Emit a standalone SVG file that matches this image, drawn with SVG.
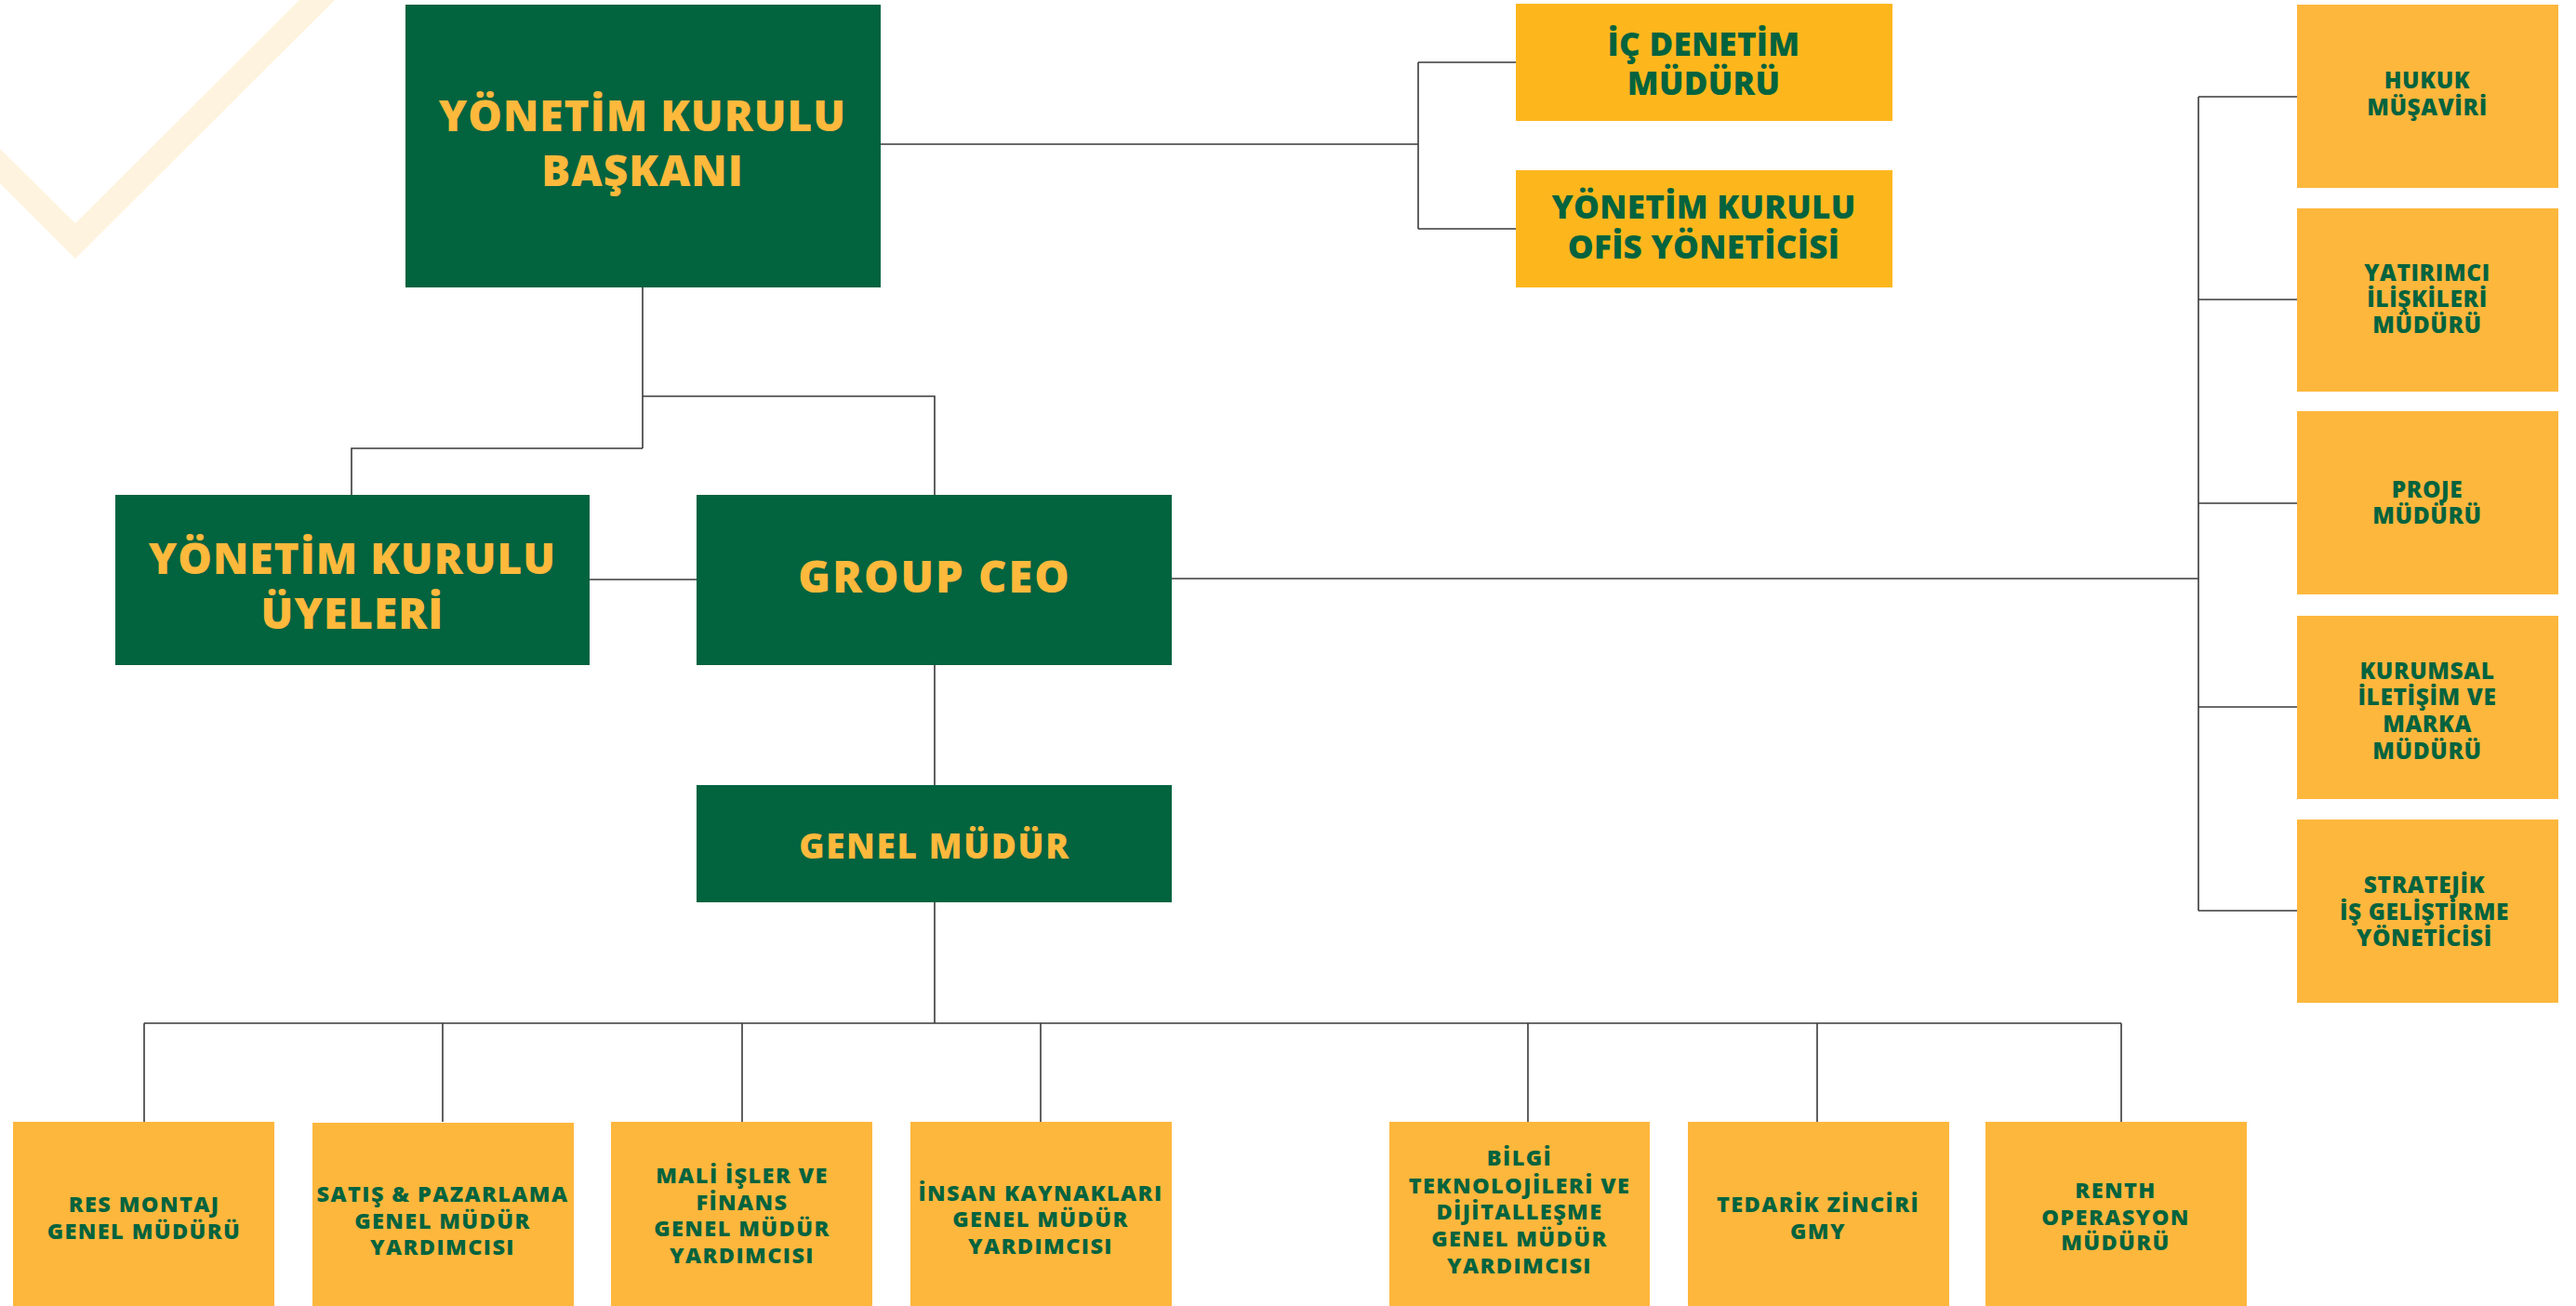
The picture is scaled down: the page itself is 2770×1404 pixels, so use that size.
<svg xmlns="http://www.w3.org/2000/svg" width="2770" height="1404" viewBox="0 0 2770 1404">
<style>
.g{fill:#02633F}
.y1{fill:#FDB71D}
.y2{fill:#FEB73D}
text{font-family:"Open Sans","DejaVu Sans",sans-serif;font-weight:800;text-anchor:middle}
.tg{fill:#FDB93C}
.ty{fill:#03633E}
.big{font-size:46px;letter-spacing:1px}
.ceo{font-size:47px;letter-spacing:2px}
.gm{font-size:37px;letter-spacing:1.6px}
.mid{font-size:35px;letter-spacing:0.3px}
.sm{font-size:24.5px;letter-spacing:0.6px}
.bt{font-size:23.5px;letter-spacing:1.4px}
.c{fill:none;stroke:#3a3a3a;stroke-width:1.6}
</style>
<rect width="2770" height="1404" fill="#FFFFFF"/>
<polygon points="0,160 81,240 322,0 360,0 81,278 0,197" fill="#FEF3DE"/>
<g id="connectors" class="c">
<path d="M947,155 H1525 M1525,67 V246 M1525,67 H1630 M1525,246 H1630"/>
<path d="M691,309 V482 M691,426 H1005 V532 M691,482 H378 V532"/>
<path d="M634,623 H749"/>
<path d="M1260,622 H2364 M2364,104 V979 M2364,104 H2470 M2364,322 H2470 M2364,541 H2470 M2364,760 H2470 M2364,979 H2470"/>
<path d="M1005,715 V844 M1005,970 V1100 M155,1100 H2281 M155,1100 V1206 M476,1100 V1206 M798,1100 V1206 M1119,1100 V1206 M1643,1100 V1206 M1954,1100 V1206 M2281,1100 V1206"/>
</g>
<g id="ykb"><rect class="g" x="436" y="5" width="511" height="304"/><text class="tg big" x="691" y="141">YÖNETİM KURULU</text><text class="tg big" x="691" y="200">BAŞKANI</text></g>
<g id="ic-denetim"><rect class="y1" x="1630" y="4" width="405" height="126"/><text class="ty mid" x="1832" y="60">İÇ DENETİM</text><text class="ty mid" x="1832" y="102">MÜDÜRÜ</text></g>
<g id="ofis"><rect class="y1" x="1630" y="183" width="405" height="126"/><text class="ty mid" x="1832" y="235">YÖNETİM KURULU</text><text class="ty mid" x="1832" y="278">OFİS YÖNETİCİSİ</text></g>
<g id="yku"><rect class="g" x="124" y="532" width="510" height="183"/><text class="tg big" x="379" y="617">YÖNETİM KURULU</text><text class="tg big" x="379" y="676">ÜYELERİ</text></g>
<g id="ceo"><rect class="g" x="749" y="532" width="511" height="183"/><text class="tg ceo" x="1005" y="637">GROUP CEO</text></g>
<g id="gm"><rect class="g" x="749" y="844" width="511" height="126"/><text class="tg gm" x="1005" y="923">GENEL MÜDÜR</text></g>
<g id="hukuk"><rect class="y2" x="2470" y="5" width="281" height="197"/><text class="ty sm" x="2610" y="95">HUKUK</text><text class="ty sm" x="2610" y="124">MÜŞAVİRİ</text></g>
<g id="yatirimci"><rect class="y2" x="2470" y="224" width="281" height="197"/><text class="ty sm" x="2610" y="302">YATIRIMCI</text><text class="ty sm" x="2610" y="330">İLİŞKİLERİ</text><text class="ty sm" x="2610" y="358">MÜDÜRÜ</text></g>
<g id="proje"><rect class="y2" x="2470" y="442" width="281" height="197"/><text class="ty sm" x="2610" y="535">PROJE</text><text class="ty sm" x="2610" y="563">MÜDÜRÜ</text></g>
<g id="kurumsal"><rect class="y2" x="2470" y="662" width="281" height="197"/><text class="ty sm" x="2610" y="730">KURUMSAL</text><text class="ty sm" x="2610" y="758">İLETİŞİM VE</text><text class="ty sm" x="2610" y="787">MARKA</text><text class="ty sm" x="2610" y="816">MÜDÜRÜ</text></g>
<g id="stratejik"><rect class="y2" x="2470" y="881" width="281" height="197"/><text class="ty sm" x="2607" y="960">STRATEJİK</text><text class="ty sm" x="2607" y="989">İŞ GELİŞTİRME</text><text class="ty sm" x="2607" y="1017">YÖNETİCİSİ</text></g>
<g id="res"><rect class="y2" x="14" y="1206" width="281" height="198"/><text class="ty bt" x="155" y="1303">RES MONTAJ</text><text class="ty bt" x="155" y="1332">GENEL MÜDÜRÜ</text></g>
<g id="satis"><rect class="y2" x="336" y="1207" width="281" height="197"/><text class="ty bt" x="476" y="1292">SATIŞ &amp; PAZARLAMA</text><text class="ty bt" x="476" y="1321">GENEL MÜDÜR</text><text class="ty bt" x="476" y="1349">YARDIMCISI</text></g>
<g id="mali"><rect class="y2" x="657" y="1206" width="281" height="198"/><text class="ty bt" x="798" y="1272">MALİ İŞLER VE</text><text class="ty bt" x="798" y="1301">FİNANS</text><text class="ty bt" x="798" y="1329">GENEL MÜDÜR</text><text class="ty bt" x="798" y="1358">YARDIMCISI</text></g>
<g id="insan"><rect class="y2" x="979" y="1206" width="281" height="198"/><text class="ty bt" x="1119" y="1291">İNSAN KAYNAKLARI</text><text class="ty bt" x="1119" y="1319">GENEL MÜDÜR</text><text class="ty bt" x="1119" y="1348">YARDIMCISI</text></g>
<g id="bilgi"><rect class="y2" x="1494" y="1206" width="280" height="198"/><text class="ty bt" x="1634" y="1253">BİLGİ</text><text class="ty bt" x="1634" y="1283">TEKNOLOJİLERİ VE</text><text class="ty bt" x="1634" y="1311">DİJİTALLEŞME</text><text class="ty bt" x="1634" y="1340">GENEL MÜDÜR</text><text class="ty bt" x="1634" y="1369">YARDIMCISI</text></g>
<g id="tedarik"><rect class="y2" x="1815" y="1206" width="281" height="198"/><text class="ty bt" x="1955" y="1303">TEDARİK ZİNCİRİ</text><text class="ty bt" x="1955" y="1332">GMY</text></g>
<g id="renth"><rect class="y2" x="2135" y="1206" width="281" height="198"/><text class="ty bt" x="2275" y="1288">RENTH</text><text class="ty bt" x="2275" y="1317">OPERASYON</text><text class="ty bt" x="2275" y="1344">MÜDÜRÜ</text></g>
</svg>
